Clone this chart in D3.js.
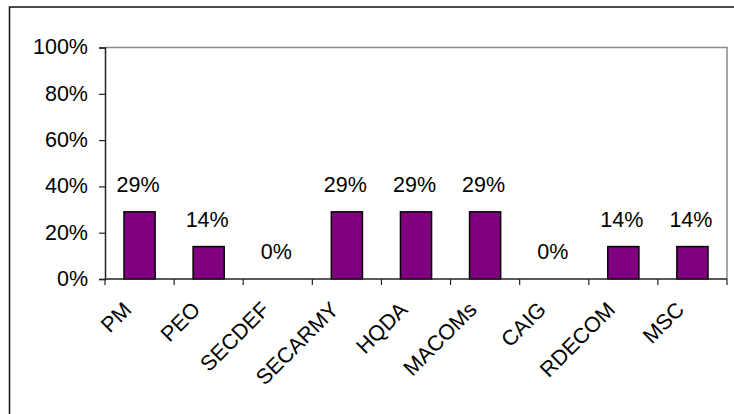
<!DOCTYPE html>
<html>
<head>
<meta charset="utf-8">
<script src="https://cdn.jsdelivr.net/npm/d3@7"></script>
<style>
  html, body { margin: 0; padding: 0; background: #fff; }
  svg { display: block; }
  text { font-family: "Liberation Sans", Arial, sans-serif; fill: #000; }
</style>
</head>
<body>
<div id="chart"></div>
<script>
// Share of responses by organisation
const categories = ["PM", "PEO", "SECDEF", "SECARMY", "HQDA", "MACOMs", "CAIG", "RDECOM", "MSC"];
const values = [29, 14, 0, 29, 29, 29, 0, 14, 14];
const yTicks = [0, 20, 40, 60, 80, 100];

const width = 734, height = 414;
const plot = { left: 105, right: 727, top: 47.5, bottom: 279 };
const fontSize = 21.5;

const svg = d3.select("#chart").append("svg")
  .attr("width", width).attr("height", height);

// Chart area frame (runs past the right and bottom edges)
svg.append("rect")
  .attr("x", 9.5).attr("y", 7)
  .attr("width", width + 20).attr("height", height + 20)
  .attr("fill", "none").attr("stroke", "#111").attr("stroke-width", 1.5);

const x = d3.scaleBand()
  .domain(categories)
  .range([plot.left, plot.right])
  .paddingInner(0.55).paddingOuter(0.275);

const xb = d3.scaleBand().domain(categories).range([plot.left, plot.right]);

const y = d3.scaleLinear().domain([0, 100]).range([plot.bottom, plot.top]);

// Plot area border: top and right edges in grey
svg.append("path")
  .attr("d", `M${plot.left},${y(100)}H${plot.right}V${plot.bottom}`)
  .attr("fill", "none").attr("stroke", "#888").attr("stroke-width", 1.5);

// Y axis
const yAxis = svg.append("g")
  .attr("transform", `translate(${plot.left},0)`)
  .call(d3.axisLeft(y).tickValues(yTicks).tickFormat(d => d + "%").tickSize(6).tickPadding(11));
yAxis.select(".domain").attr("stroke", "#222").attr("stroke-width", 1.5);
yAxis.selectAll(".tick line").attr("stroke", "#222").attr("stroke-width", 1.2);
yAxis.selectAll("text")
  .attr("font-size", fontSize)
  .style("font-family", "'Liberation Sans', Arial, sans-serif")
  .attr("dy", "0.3em");

// Bars
svg.append("g").selectAll("rect")
  .data(values.map((v, i) => ({ cat: categories[i], v })))
  .join("rect")
  .filter(d => d.v > 0)
  .attr("x", d => x(d.cat))
  .attr("y", d => y(d.v))
  .attr("width", x.bandwidth())
  .attr("height", d => y(0) - y(d.v))
  .attr("fill", "#800080")
  .attr("stroke", "#000")
  .attr("stroke-width", 1.5);

// Value labels
svg.append("g").selectAll("text")
  .data(values.map((v, i) => ({ cat: categories[i], v })))
  .join("text")
  .attr("x", d => xb(d.cat) + xb.bandwidth() / 2 - 1.5)
  .attr("y", d => y(d.v) - 20)
  .attr("text-anchor", "middle")
  .attr("font-size", fontSize)
  .text(d => d.v + "%");

// X axis: baseline with ticks at category boundaries
const boundaries = categories.map(c => xb(c)).concat([plot.right]);
const xAxis = svg.append("g");
xAxis.append("line")
  .attr("x1", plot.left).attr("x2", plot.right)
  .attr("y1", plot.bottom).attr("y2", plot.bottom)
  .attr("stroke", "#222").attr("stroke-width", 1.5);
xAxis.selectAll("line.tick")
  .data(boundaries)
  .join("line")
  .attr("class", "tick")
  .attr("x1", d => d).attr("x2", d => d)
  .attr("y1", plot.bottom).attr("y2", plot.bottom + 6)
  .attr("stroke", "#222").attr("stroke-width", 1.2);

// Rotated category labels
xAxis.selectAll("text")
  .data(categories)
  .join("text")
  .attr("transform", d => `translate(${xb(d) + xb.bandwidth() / 2 - 7},${plot.bottom + 32}) rotate(-45)`)
  .attr("text-anchor", "end")
  .attr("font-size", fontSize)
  .text(d => d);
</script>
</body>
</html>
